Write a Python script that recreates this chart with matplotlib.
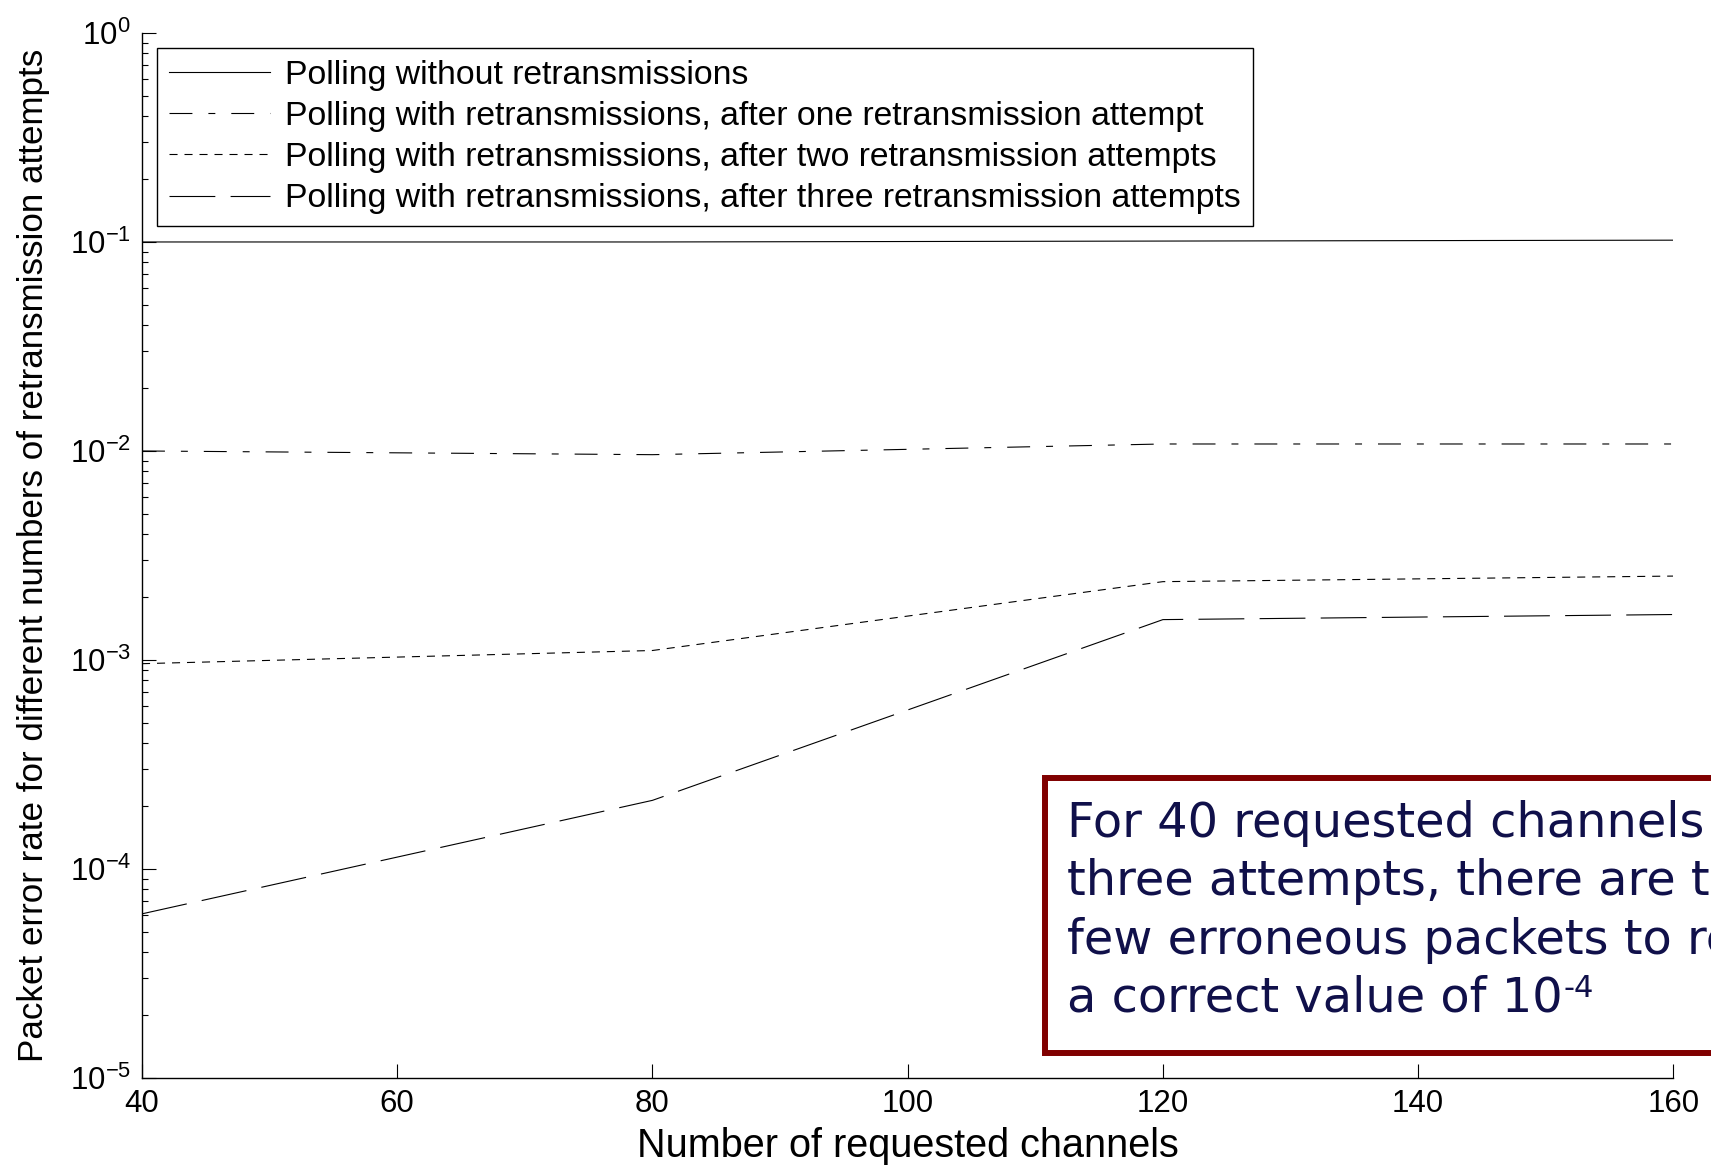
import matplotlib
matplotlib.use("Agg")
import matplotlib.pyplot as plt
import matplotlib.patches as patches
from matplotlib.ticker import LogLocator, NullFormatter

# values (packet error rate, log scale)
channels = [40, 80, 120, 160]
no_retx = [0.100, 0.100, 0.101, 0.102]
one_retx = [0.0100, 0.0096, 0.0108, 0.0108]
two_retx = [0.00096, 0.00111, 0.00237, 0.00252]
three_retx = [6.1e-5, 2.13e-4, 1.56e-3, 1.65e-3]

labels = [
    "Polling without retransmissions",
    "Polling with retransmissions, after one retransmission attempt",
    "Polling with retransmissions, after two retransmission attempts",
    "Polling with retransmissions, after three retransmission attempts",
]
x_ticks = [40, 60, 80, 100, 120, 140, 160]

note_lines = ["For 40 requested channels after",
              "three attempts, there are too",
              "few erroneous packets to reach",
              "a correct value of 10"]
note_sup = "-4"
note_baselines = [0.2815, 0.2318, 0.1815, 0.1318]

plt.rcParams['font.family'] = ['Liberation Sans', 'DejaVu Sans']
plt.rcParams['lines.scale_dashes'] = False

fig = plt.figure(figsize=(17.11, 11.65), dpi=100)
ax = fig.add_axes([0.083, 0.0747, 0.895, 0.897])

ax.plot(channels, no_retx, color='black', lw=0.8, linestyle='-', label=labels[0])
ax.plot(channels, one_retx, color='black', lw=0.8, linestyle=(0, (16.5, 11.5, 5, 11.5)), label=labels[1])
ax.plot(channels, two_retx, color='black', lw=0.8, linestyle=(0, (5.8, 5)), label=labels[2])
ax.plot(channels, three_retx, color='black', lw=0.8, linestyle=(0, (33, 11)), label=labels[3])

ax.set_yscale('log')
ax.set_xlim(40, 160)
ax.set_ylim(1e-5, 1)
ax.set_xticks(x_ticks)
ax.yaxis.set_major_locator(LogLocator(base=10, numticks=10))
ax.yaxis.set_minor_locator(LogLocator(base=10, subs=range(2, 10), numticks=20))
ax.yaxis.set_minor_formatter(NullFormatter())

ax.spines['top'].set_visible(False)
ax.spines['right'].set_visible(False)
for s in ['left', 'bottom']:
    ax.spines[s].set_linewidth(1.0)
ax.tick_params(which='major', direction='in', length=10, width=0.8, labelsize=22.5, pad=8)
ax.tick_params(which='minor', direction='in', length=4, width=0.8)

ax.set_xlabel("Number of requested channels", fontsize=28.5, labelpad=6)
ax.set_ylabel("Packet error rate for different numbers of retransmission attempts",
              fontsize=25.2, labelpad=14)

leg = ax.legend(loc='upper left', fontsize=24.3, handlelength=3.0, handletextpad=0.45,
                labelspacing=0.3, borderpad=0.35, borderaxespad=0.45,
                fancybox=False, framealpha=1, edgecolor='black')
leg.get_frame().set_linewidth(1.0)

# boxed comment overlaid at the bottom right, running past the edge
box = patches.Rectangle((0.6108, 0.0961), 0.6, 0.236, transform=fig.transFigure,
                        facecolor='white', edgecolor='#800000', lw=4.3,
                        clip_on=False, zorder=5)
fig.add_artist(box)
last = None
for line, yb in zip(note_lines, note_baselines):
    last = fig.text(0.6236, yb, line, fontsize=34.5, family='DejaVu Sans', color='#10104a',
                    va='baseline', ha='left', zorder=6)
fig.add_artist(matplotlib.text.Annotation(note_sup, xy=(1.0, 1.02), xycoords=last,
                                          xytext=(1, 0), textcoords='offset points',
                                          fontsize=22, family='DejaVu Sans', color='#10104a',
                                          va='top', ha='left', zorder=6))

fig.savefig("out.png", dpi=100)
